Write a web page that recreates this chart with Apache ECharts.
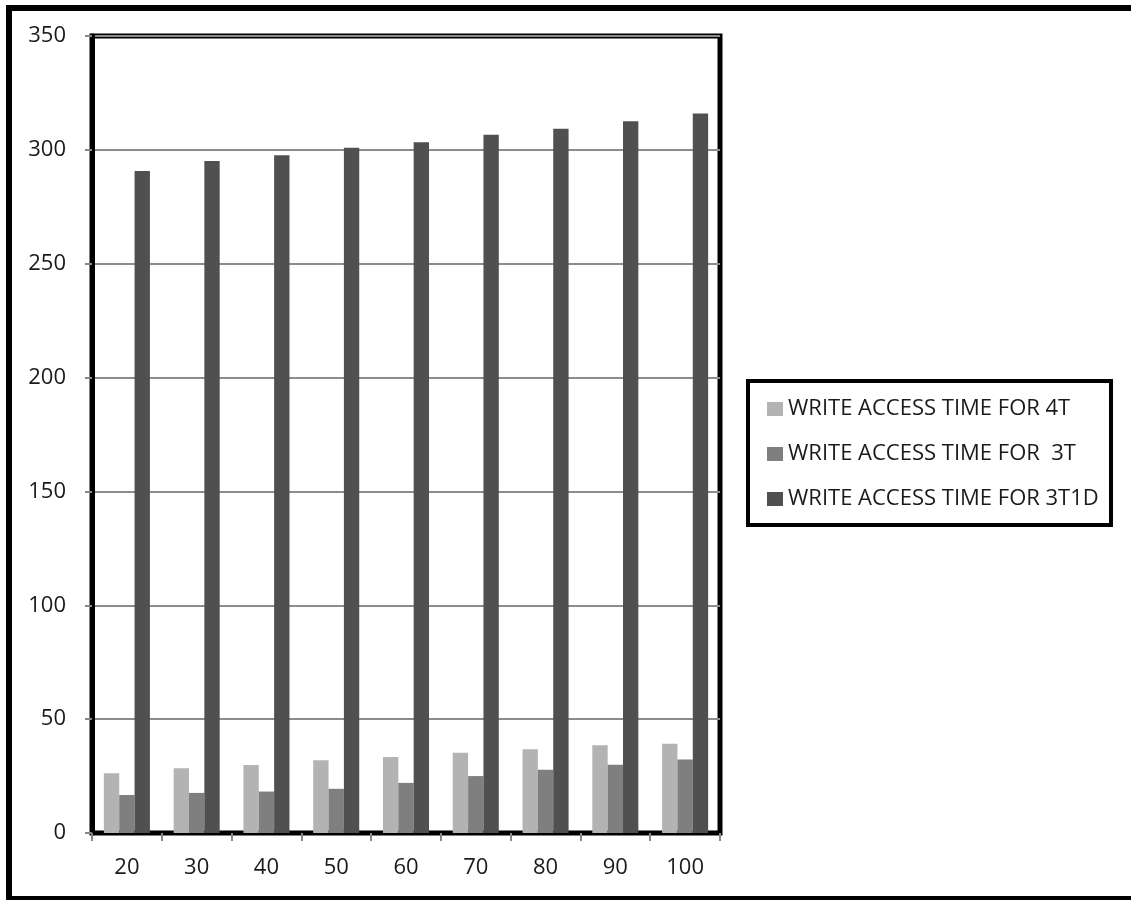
<!DOCTYPE html>
<html><head><meta charset="utf-8">
<script src="https://cdn.jsdelivr.net/npm/echarts@6/dist/echarts.min.js"></script>
<style>html,body{margin:0;padding:0;background:#fff}#c{width:1131px;height:900px}</style>
</head><body><div id="c"></div>
<script>
const categories = ['20','30','40','50','60','70','80','90','100'];
const seriesNames = ['WRITE ACCESS TIME FOR 4T','WRITE ACCESS TIME FOR  3T','WRITE ACCESS TIME FOR 3T1D'];
const write4T   = [26.2, 28.4, 29.9, 31.9, 33.4, 35.2, 36.8, 38.5, 39.2];
const write3T   = [16.7, 17.6, 18.2, 19.4, 22.0, 25.0, 27.8, 30.0, 32.3];
const write3T1D = [290.7, 295.1, 297.6, 300.9, 303.3, 306.6, 309.3, 312.6, 316.0];
const yTicks = [0, 50, 100, 150, 200, 250, 300, 350];
const colors = ['#b3b3b3', '#7f7f7f', '#505050'];
const font = '"Open Sans", "Liberation Sans", sans-serif';

const chart = echarts.init(document.getElementById('c'), null, {renderer: 'canvas'});
const mk = (name, data, color) => ({
  name, type: 'bar', data, barGap: '0%', barCategoryGap: '34%',
  itemStyle: {color}, z: 2
});
chart.setOption({
  animation: false,
  backgroundColor: '#fff',
  color: colors,
  textStyle: {fontFamily: font},
  graphic: [
    {type: 'rect', shape: {x: 9, y: 8, width: 1140, height: 891}, style: {fill: 'none', stroke: '#000', lineWidth: 6}, z: 100},
    {type: 'rect', shape: {x: 748, y: 381, width: 363, height: 144}, style: {fill: '#fff', stroke: '#000', lineWidth: 4}, z: 0}
  ],
  legend: {
    orient: 'vertical', left: 762, top: 393, itemWidth: 16, itemHeight: 14, itemGap: 23,
    icon: 'rect', data: seriesNames,
    textStyle: {fontFamily: font, fontSize: 22, color: '#1a1a1a'}, z: 10
  },
  grid: {left: 92, right: 411, top: 36, bottom: 67, show: true, borderColor: '#000', borderWidth: 5, containLabel: false},
  xAxis: {
    type: 'category', data: categories, boundaryGap: true,
    axisLine: {lineStyle: {color: '#000', width: 4}},
    axisTick: {show: true, length: 8, lineStyle: {color: '#888', width: 2}},
    axisLabel: {color: '#1a1a1a', fontSize: 22, fontFamily: font, margin: 24}
  },
  yAxis: {
    type: 'value', min: 0, max: 350, interval: 50,
    axisLine: {show: true, lineStyle: {color: '#000', width: 5}},
    axisTick: {show: true, length: 7, lineStyle: {color: '#888', width: 2}},
    axisLabel: {color: '#1a1a1a', fontSize: 22, fontFamily: font, margin: 26,
      formatter: v => yTicks.includes(v) ? String(v) : ''},
    splitLine: {lineStyle: {color: '#8c8c8c', width: 2}}
  },
  series: [mk(seriesNames[0], write4T, colors[0]), mk(seriesNames[1], write3T, colors[1]), mk(seriesNames[2], write3T1D, colors[2])]
});
</script></body></html>
